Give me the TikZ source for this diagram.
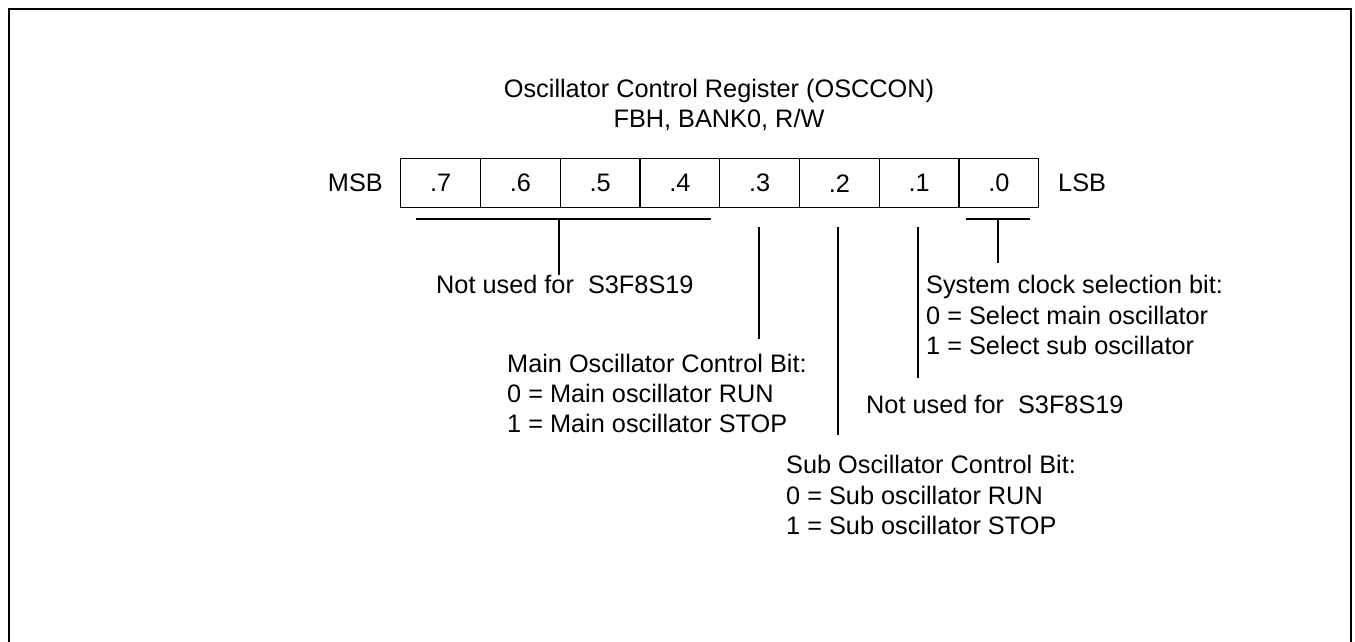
\documentclass[tikz,border=0pt]{standalone}
\usepackage{fontspec}
\setmainfont{Liberation Sans}
\begin{document}
\begin{tikzpicture}[x=1pt,y=-1pt,
  txt/.style={inner sep=0pt,font=\fontsize{25.3}{30}\selectfont},
  lbl/.style={txt,anchor=base west},
  cell/.style={draw,line width=1.4pt,minimum width=79.75pt,minimum height=49pt,inner sep=0pt,anchor=north west,font=\fontsize{25.3}{30}\selectfont},
  ln/.style={line width=1.4pt}]
\useasboundingbox (0,0) rectangle (1355,642);
% outer frame (open at the bottom, continues past the page)
\draw[line width=2.4pt] (9,650) -- (9,9) -- (1351,9) -- (1351,650);
% title
\node[txt,anchor=base] (t1) at (719,98) {Oscillator Control Register (OSCCON)};
\node[txt,anchor=base] (t2) at (719,127) {FBH, BANK0, R/W};
% register cells
\foreach \b [count=\i from 0] in {7,6,5,4,3,2,1,0}{
  \node[cell] (c\b) at (400+\i*79.75,158) {.\b};
}
\node[txt,anchor=base east] (msb) at (383,191) {MSB};
\node[txt,anchor=base west] (lsb) at (1058,191) {LSB};
% brackets and leaders
\coordinate (b7a) at (416,219);
\coordinate (b7b) at (711,219);
\coordinate (b7m) at (559,219);
\coordinate (b7e) at (559,275);
\draw[ln] (b7a) -- (b7b);
\draw[ln] (b7m) -- (b7e);
\coordinate (l3a) at (759,227); \coordinate (l3b) at (759,339);
\coordinate (l2a) at (838,227); \coordinate (l2b) at (838,435);
\coordinate (l1a) at (918,227); \coordinate (l1b) at (918,378);
\draw[ln] (l3a) -- (l3b);
\draw[ln] (l2a) -- (l2b);
\draw[ln] (l1a) -- (l1b);
\coordinate (b0a) at (966,219);
\coordinate (b0b) at (1030,219);
\coordinate (b0m) at (998,219);
\coordinate (b0e) at (998,263);
\draw[ln] (b0a) -- (b0b);
\draw[ln] (b0m) -- (b0e);
% descriptions
\node[lbl] (nu1) at (436,293) {Not used for\ \ S3F8S19};
\node[lbl] (m1) at (507,372) {Main Oscillator Control Bit:};
\node[lbl] (m2) at (507,402) {0 = Main oscillator RUN};
\node[lbl] (m3) at (507,432) {1 = Main oscillator STOP};
\node[lbl] (s1) at (926,293) {System clock selection bit:};
\node[lbl] (s2) at (926,324) {0 = Select main oscillator};
\node[lbl] (s3) at (926,354) {1 = Select sub oscillator};
\node[lbl] (nu2) at (866,413) {Not used for\ \ S3F8S19};
\node[lbl] (u1) at (786,473) {Sub Oscillator Control Bit:};
\node[lbl] (u2) at (786,504) {0 = Sub oscillator RUN};
\node[lbl] (u3) at (786,534) {1 = Sub oscillator STOP};
\end{tikzpicture}
\end{document}
